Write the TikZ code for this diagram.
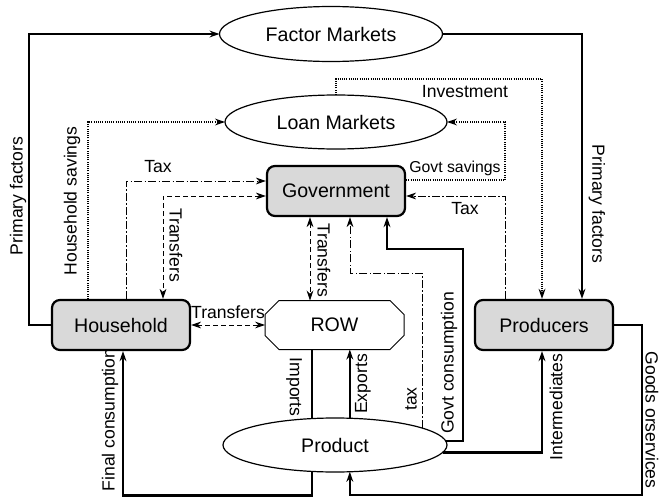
\documentclass[tikz,border=0pt]{standalone}
\usepackage{fontspec}
\setmainfont{Liberation Sans}
\usetikzlibrary{arrows.meta,shapes.geometric,shapes.misc}
\tikzset{
  market/.style={draw, ellipse, line width=0.6pt, inner sep=0pt, outer sep=0pt,
    minimum width=111.5pt, minimum height=27.5pt, font=\fontsize{9.8}{11}\selectfont},
  agent/.style={draw, rounded corners=4pt, fill=black!15, line width=1.1pt,
    minimum width=69pt, minimum height=25pt, font=\fontsize{9.8}{11}\selectfont},
  world/.style={draw, chamfered rectangle, chamfered rectangle xsep=6.5pt, line width=0.5pt,
    inner sep=0pt, outer sep=0pt, minimum width=69.5pt, minimum height=24.5pt,
    font=\fontsize{9.8}{11}\selectfont},
  lbl/.style={font=\fontsize{8.8}{10}\selectfont, inner sep=0pt},
  flow/.style={line width=1.2pt},
  savings/.style={line width=0.8pt, dash pattern=on 0.5pt off 0.6pt},
  taxflow/.style={line width=0.5pt, dash pattern=on 4pt off 1.2pt on 0.6pt off 1.2pt},
  transfer/.style={line width=0.5pt, dash pattern=on 2.5pt off 1.5pt},
  >={Stealth[length=5pt,width=3.4pt]}
}
\begin{document}
\begin{tikzpicture}[x=0.5pt, y=-0.5pt]
			%%%%% FRAME %%%%%
			\useasboundingbox (0, 0) rectangle (660, 498);
			
			%%%%% NODES %%%%%
			\node[market] (factor) at (331, 34) {Factor Markets};
			\node[market, minimum width=111pt, minimum height=27pt] (loan) at (336, 122) {Loan Markets};
			\node[agent] (government) at (336, 191) {Government};
			\node[agent] (household) at (121, 325) {Household};
			\node[world] (row) at (334.5, 325) {ROW};
			\node[agent] (producers) at (544, 325) {Producers};
			\node[market, minimum width=112pt, minimum height=27pt] (product) at (335, 445) {Product};
			
			%%%%% PRIMARY FACTORS %%%%%
			\draw[flow, ->] (household.west) -- ++(-22, 0) |- (factor.west);
			\draw[flow, ->] (factor.east) -| ([xshift=19pt]producers.north);
			
			%%%%% SAVINGS AND INVESTMENT %%%%%
			\draw[savings, ->] ([xshift=-16.5pt]household.north) |- (loan.west);
			\draw[savings, ->] (loan.north) -- ++(0, -16) -| ([xshift=-1pt]producers.north);
			\draw[savings, ->] ([yshift=5.5pt]government.east) -| ([xshift=29pt]loan.east) -- (loan.east);
			
			%%%%% TAXES %%%%%
			\draw[taxflow, ->] ([xshift=2.5pt]household.north) |- ([yshift=5pt]government.west);
			\draw[taxflow, ->] ([xshift=-19.5pt]producers.north) |- ([yshift=-2.5pt]government.east);
			\draw[taxflow, ->] (product.11) |- ([xshift=7pt, yshift=-28pt]government.south) -- ([xshift=7pt]government.south);
			
			%%%%% TRANSFERS %%%%%
			\draw[transfer, <->] ([yshift=-2.5pt]government.west) -| ([xshift=21pt]household.north);
			\draw[transfer, <->] ([xshift=-13pt]government.south) -- ([xshift=-13pt]government.south |- row.north);
			\draw[transfer, <->] (household.east) -- (row.west);
			
			%%%%% GOODS %%%%%
			\draw[flow] (product.131) -- (product.131 |- row.south);
			\draw[flow, ->] (product.61) -- (product.61 |- row.south);
			\draw[flow, ->] (product.2) -- ++(17, 0) |- ([xshift=25.5pt, yshift=-16pt]government.south) -- ([xshift=25.5pt]government.south);
			\draw[flow, ->] (product.-4) -| ([xshift=-1pt]producers.south);
			\draw[flow, ->] (producers.east) -- ++(28, 0) -- ++(0, 170) -| (product.-61);
			\draw[flow, ->] (product.229) -- ++(0, 24) -| ([xshift=1pt]household.south);
			
			%%%%% LABELS %%%%%
			\node[lbl, rotate=90] (lprimleft) at (18, 196) {Primary factors};
			\node[lbl, rotate=-90] (lprimright) at (597, 204) {Primary factors};
			\node[lbl, rotate=90] (lhhsav) at (72, 201) {Household savings};
			\node[lbl] (linvest) at (465, 92) {Investment};
			\node[lbl, font=\fontsize{7.9}{9}\selectfont] (lgovsav) at (455, 168) {Govt savings};
			\node[lbl] (ltaxhh) at (158, 167) {Tax};
			\node[lbl] (ltaxprod) at (465, 209) {Tax};
			\node[lbl, rotate=-90] (ltrhh) at (176, 245) {Transfers};
			\node[lbl, rotate=-90] (ltrrow) at (324, 260) {Transfers};
			\node[lbl] (ltrside) at (228, 312) {Transfers};
			\node[lbl, rotate=-90] (limports) at (294, 387) {Imports};
			\node[lbl, rotate=90] (lexports) at (363, 384) {Exports};
			\node[lbl, rotate=90] (ltaxprd) at (411, 399) {tax};
			\node[lbl, rotate=90] (lgovcons) at (449, 363) {Govt consumption};
			\node[lbl, rotate=90] (linter) at (556, 407) {Intermediates};
			\node[lbl, rotate=-90] (lgoods) at (652, 420) {Goods orservices};
			\node[lbl, rotate=90] (lfinal) at (110, 420) {Final consumption};
		\end{tikzpicture}
\end{document}
